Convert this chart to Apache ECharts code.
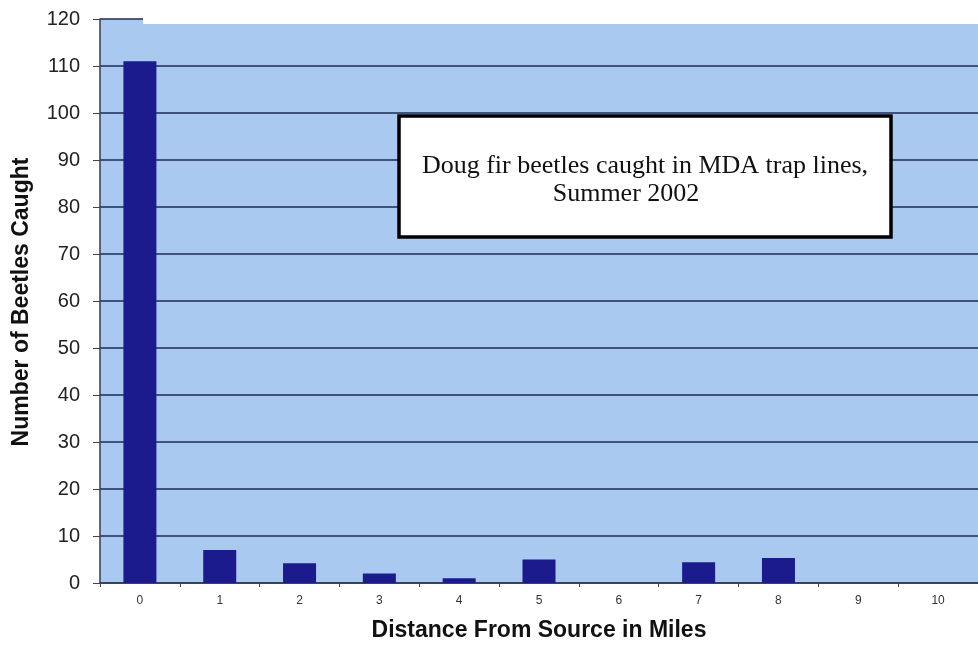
<!DOCTYPE html>
<html>
<head>
<meta charset="utf-8">
<script src="https://cdn.jsdelivr.net/npm/echarts@6/dist/echarts.min.js"></script>
<style>
  html, body { margin: 0; padding: 0; background: #ffffff; }
  #chart { width: 978px; height: 650px; }
</style>
</head>
<body>
<div id="chart"></div>
<script>
// Miles from the source, one trap line per mile
const distances = ['0', '1', '2', '3', '4', '5', '6', '7', '8', '9', '10'];
// Doug fir beetles caught at each distance
const beetlesCaught = [111, 7, 4.2, 2, 1, 5, 0, 4.4, 5.3, 0, 0];
// Value axis range and step
const yMin = 0;
const yMax = 120;
const yStep = 10;

const sansFont = 'Liberation Sans, Arial, sans-serif';
const serifFont = 'Liberation Serif, Times New Roman, serif';

const chart = echarts.init(document.getElementById('chart'));

chart.setOption({
  animation: false,
  backgroundColor: '#ffffff',
  grid: {
    left: 100,
    top: 19,
    width: 880,
    bottom: 67,
    show: true,
    backgroundColor: '#a9c9f1',
    borderWidth: 0
  },
  xAxis: {
    type: 'category',
    data: distances,
    name: 'Distance From Source in Miles',
    nameLocation: 'middle',
    nameGap: 36,
    nameTextStyle: {
      fontFamily: sansFont,
      fontWeight: 'bold',
      fontSize: 23,
      color: '#111111'
    },
    axisLine: { show: true, lineStyle: { color: '#3a3a4a', width: 1.5 } },
    axisTick: { show: true, length: 4, alignWithLabel: false, lineStyle: { color: '#444444' } },
    axisLabel: {
      fontFamily: sansFont,
      fontSize: 12,
      color: '#333333',
      margin: 12
    },
    splitLine: { show: false }
  },
  yAxis: {
    type: 'value',
    min: yMin,
    max: yMax,
    interval: yStep,
    axisLine: { show: true, lineStyle: { color: '#3a3a4a', width: 1.5 } },
    axisTick: { show: true, inside: false, length: 7, lineStyle: { color: '#444444' } },
    axisLabel: {
      fontFamily: sansFont,
      fontSize: 20,
      color: '#222222',
      margin: 20
    },
    splitLine: { show: true, lineStyle: { color: '#1c2a55', width: 1.5 } }
  },
  series: [{
    type: 'bar',
    data: beetlesCaught,
    barWidth: 33,
    itemStyle: { color: '#1b1b8e' },
    z: 3
  }],
  graphic: [
    {
      // light strip above the plot area, right of the first column
      type: 'rect',
      shape: { x: 143, y: 0, width: 835, height: 24 },
      style: { fill: '#ffffff' },
      z: 1
    },
    {
      // value axis title, reading bottom to top
      type: 'text',
      x: 22,
      y: 302,
      rotation: Math.PI / 2,
      style: {
        text: 'Number of Beetles Caught',
        fontFamily: sansFont,
        fontWeight: 'bold',
        fontSize: 23,
        fill: '#111111',
        align: 'center',
        verticalAlign: 'middle'
      },
      z: 5
    },
    {
      type: 'rect',
      shape: { x: 399, y: 116, width: 492, height: 121 },
      style: { fill: '#ffffff', stroke: '#000000', lineWidth: 3.5 },
      z: 10
    },
    {
      type: 'text',
      x: 645,
      y: 166,
      style: {
        text: 'Doug fir beetles caught in MDA trap lines,',
        fontFamily: serifFont,
        fontSize: 26,
        fill: '#111111',
        align: 'center',
        verticalAlign: 'middle'
      },
      z: 11
    },
    {
      type: 'text',
      x: 626,
      y: 194,
      style: {
        text: 'Summer 2002',
        fontFamily: serifFont,
        fontSize: 26,
        fill: '#111111',
        align: 'center',
        verticalAlign: 'middle'
      },
      z: 11
    }
  ]
});
</script>
</body>
</html>
